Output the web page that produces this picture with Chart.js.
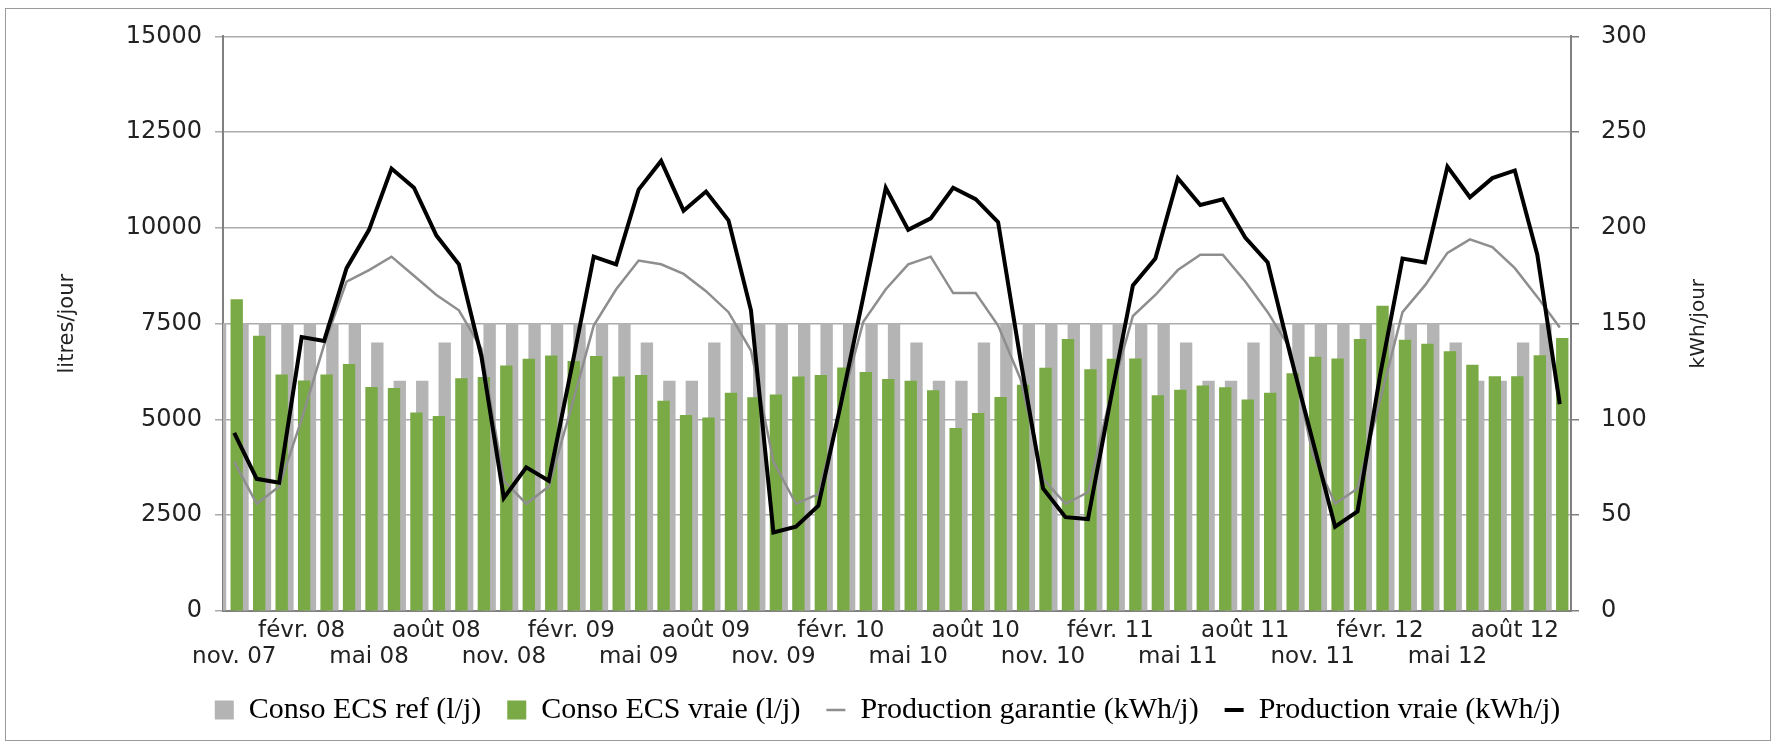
<!DOCTYPE html>
<html lang="fr">
<head>
<meta charset="utf-8">
<title>Conso ECS et production solaire</title>
<script src="https://cdn.jsdelivr.net/npm/chart.js"></script>
<style>
    html, body { margin: 0; padding: 0; background: #fff; }
    #wrap { position: relative; width: 1775px; height: 745px; }
    #frame {
        position: absolute; left: 5px; top: 8px; width: 1764px; height: 731px;
        border: 1.5px solid #9a9a9a; pointer-events: none;
    }
</style>
</head>
<body>
<div id="wrap">
    <canvas id="ecsChart" width="1775" height="745"></canvas>
    <div id="frame"></div>
</div>
<script>
// mois, de nov. 07 a oct. 12
var months = [
    'nov. 07', 'déc. 07', 'janv. 08', 'févr. 08', 'mars 08', 'avr. 08', 'mai 08', 'juin 08', 'juil. 08', 'août 08', 'sept. 08', 'oct. 08',
    'nov. 08', 'déc. 08', 'janv. 09', 'févr. 09', 'mars 09', 'avr. 09', 'mai 09', 'juin 09', 'juil. 09', 'août 09', 'sept. 09', 'oct. 09',
    'nov. 09', 'déc. 09', 'janv. 10', 'févr. 10', 'mars 10', 'avr. 10', 'mai 10', 'juin 10', 'juil. 10', 'août 10', 'sept. 10', 'oct. 10',
    'nov. 10', 'déc. 10', 'janv. 11', 'févr. 11', 'mars 11', 'avr. 11', 'mai 11', 'juin 11', 'juil. 11', 'août 11', 'sept. 11', 'oct. 11',
    'nov. 11', 'déc. 11', 'janv. 12', 'févr. 12', 'mars 12', 'avr. 12', 'mai 12', 'juin 12', 'juil. 12', 'août 12', 'sept. 12', 'oct. 12'
];

// litres/jour
var consoRef = [
    7500, 7500, 7500, 7500, 7500, 7500, 7500, 7000, 6000, 6000, 7000, 7500,
    7500, 7500, 7500, 7500, 7500, 7500, 7500, 7000, 6000, 6000, 7000, 7500,
    7500, 7500, 7500, 7500, 7500, 7500, 7500, 7000, 6000, 6000, 7000, 7500,
    7500, 7500, 7500, 7500, 7500, 7500, 7500, 7000, 6000, 6000, 7000, 7500,
    7500, 7500, 7500, 7500, 7500, 7500, 7500, 7000, 6000, 6000, 7000, 7500
];
var consoVraie = [
    8130, 7180, 6165, 6010, 6165, 6440, 5840, 5810, 5170, 5080, 6070, 6100,
    6400, 6575, 6660, 6520, 6650, 6110, 6150, 5480, 5105, 5045, 5690, 5570,
    5640, 6110, 6150, 6350, 6230, 6050, 6000, 5755, 4770, 5160, 5580, 5900,
    6340, 7095, 6300, 6575, 6585, 5625, 5770, 5875, 5830, 5515, 5690, 6200,
    6630, 6585, 7095, 7960, 7070, 6970, 6770, 6420, 6120, 6120, 6670, 7120
];

// kWh/jour
var productionGarantie = [
    78, 56, 65, 100, 139, 172, 178, 185, 175, 165, 157, 137,
    68, 56, 65, 106, 149, 168, 183, 181, 176, 167, 156, 136,
    78, 56, 61, 107, 151, 168, 181, 185, 166, 166, 149, 121,
    69, 56, 62, 112, 154, 165, 178, 186, 186, 172, 156, 137,
    82, 56, 64, 110, 156, 170, 187, 194, 190, 179, 164, 148
];
var productionVraie = [
    93, 69, 67, 143, 141, 179, 199, 231, 221, 196, 181, 133,
    59, 75, 68, 126, 185, 181, 220, 235, 209, 219, 204, 157,
    41, 44, 55, 108, 164, 221, 199, 205, 221, 215, 203, 131,
    64, 49, 48, 110, 170, 184, 226, 212, 215, 195, 182, 134,
    89, 44, 52, 123, 184, 182, 232, 216, 226, 230, 186, 108
];

var leftTicks = [0, 2500, 5000, 7500, 10000, 12500, 15000];
var rightTicks = [0, 50, 100, 150, 200, 250, 300];

document.addEventListener('DOMContentLoaded', function() {

    // titre de l'axe de droite, lu de bas en haut comme a gauche
    var rightTitle = {
        id: 'rightTitle',
        afterDraw: function(chart) {
            var ctx = chart.ctx;
            var area = chart.chartArea;
            ctx.save();
            ctx.translate(chart.scales.y1.right - 76, (area.top + area.bottom) / 2);
            ctx.rotate(-Math.PI / 2);
            ctx.font = '20px "DejaVu Sans"';
            ctx.fillStyle = '#222';
            ctx.textAlign = 'center';
            ctx.textBaseline = 'middle';
            ctx.fillText('kWh/jour', 0, 0);
            ctx.restore();
        }
    };

    // les barres grises et vertes se chevauchent : chacune a son axe x cache,
    // decale d'un peu plus d'un dixieme de mois de part et d'autre
    var n = months.length;
    var shift = 0.111;
    function points(values) {
        return values.map(function(v, i) { return { x: i, y: v }; });
    }

    var ctx = document.getElementById('ecsChart').getContext('2d');
    var ecsChart = new Chart(ctx, {
        type: 'bar',
        data: {
            labels: months,
            datasets: [{
                label: 'Conso ECS ref (l/j)',
                data: points(consoRef),
                xAxisID: 'xRef',
                yAxisID: 'y',
                backgroundColor: '#b4b4b4',
                borderColor: '#b4b4b4',
                borderWidth: 0,
                barThickness: 11.7,
                pointStyle: 'rect',
                order: 4
            }, {
                label: 'Conso ECS vraie (l/j)',
                data: points(consoVraie),
                xAxisID: 'xVraie',
                yAxisID: 'y',
                backgroundColor: '#79aa45',
                borderColor: '#79aa45',
                borderWidth: 0,
                barThickness: 11.7,
                pointStyle: 'rect',
                order: 3
            }, {
                type: 'line',
                label: 'Production garantie (kWh/j)',
                data: productionGarantie,
                xAxisID: 'x',
                yAxisID: 'y1',
                borderColor: '#8e8e8e',
                backgroundColor: '#8e8e8e',
                borderWidth: 2.5,
                pointRadius: 0,
                pointStyle: 'line',
                tension: 0,
                fill: false,
                order: 1
            }, {
                type: 'line',
                label: 'Production vraie (kWh/j)',
                data: productionVraie,
                xAxisID: 'x',
                yAxisID: 'y1',
                borderColor: '#000',
                backgroundColor: '#000',
                borderWidth: 4,
                pointRadius: 0,
                pointStyle: 'line',
                tension: 0,
                fill: false,
                order: 0
            }]
        },
        options: {
            responsive: false,
            devicePixelRatio: 1,
            animation: false,
            layout: {
                padding: { top: 35, left: 0, right: 0, bottom: 10 }
            },
            scales: {
                x: {
                    type: 'category',
                    offset: true,
                    grid: { display: false, drawTicks: false, offset: true },
                    border: { display: true, color: '#808080', width: 2 },
                    ticks: {
                        autoSkip: false,
                        maxRotation: 0,
                        minRotation: 0,
                        padding: 7,
                        color: '#222',
                        font: { family: '"DejaVu Sans"', size: 23, lineHeight: 1.13 },
                        callback: function(value, index) {
                            if (index % 3 !== 0) return '';
                            var label = months[index];
                            return (index / 3) % 2 === 0 ? ['', label] : [label, ''];
                        }
                    },
                    afterFit: function(scale) { scale.height = 58; }
                },
                xRef: {
                    type: 'linear',
                    axis: 'x',
                    display: false,
                    offset: false,
                    min: -0.5 + shift,
                    max: n - 0.5 + shift
                },
                xVraie: {
                    type: 'linear',
                    axis: 'x',
                    display: false,
                    offset: false,
                    min: -0.5 - shift,
                    max: n - 0.5 - shift
                },
                y: {
                    type: 'linear',
                    position: 'left',
                    min: 0,
                    max: 15000,
                    afterBuildTicks: function(scale) {
                        scale.ticks = leftTicks.map(function(v) { return { value: v }; });
                    },
                    grid: { color: '#ababab', lineWidth: 1.5, tickLength: 8 },
                    border: { color: '#808080', width: 2 },
                    ticks: {
                        padding: 13,
                        color: '#222',
                        font: { family: '"DejaVu Sans"', size: 24 },
                        callback: function(v) { return String(v); }
                    },
                    title: {
                        display: true,
                        text: 'litres/jour',
                        color: '#222',
                        font: { family: '"DejaVu Sans"', size: 21 },
                        padding: { top: 55, bottom: 0 }
                    },
                    afterFit: function(scale) { scale.width = 223; }
                },
                y1: {
                    type: 'linear',
                    position: 'right',
                    min: 0,
                    max: 300,
                    afterBuildTicks: function(scale) {
                        scale.ticks = rightTicks.map(function(v) { return { value: v }; });
                    },
                    grid: { drawOnChartArea: false, color: '#808080', lineWidth: 1.5, tickLength: 8 },
                    border: { color: '#808080', width: 2 },
                    ticks: {
                        padding: 22,
                        color: '#222',
                        font: { family: '"DejaVu Sans"', size: 24 },
                        callback: function(v) { return String(v); }
                    },
                    afterFit: function(scale) { scale.width = 204; }
                }
            },
            plugins: {
                legend: {
                    display: true,
                    position: 'bottom',
                    labels: {
                        usePointStyle: true,
                        pointStyleWidth: 19,
                        boxHeight: 19,
                        padding: 26,
                        color: '#000',
                        font: { family: '"Liberation Serif"', size: 30 },
                        sort: function(a, b) { return a.datasetIndex - b.datasetIndex; }
                    }
                },
                tooltip: { enabled: false },
                title: { display: false }
            }
        },
        plugins: [rightTitle]
    });
});
</script>
</body>
</html>
